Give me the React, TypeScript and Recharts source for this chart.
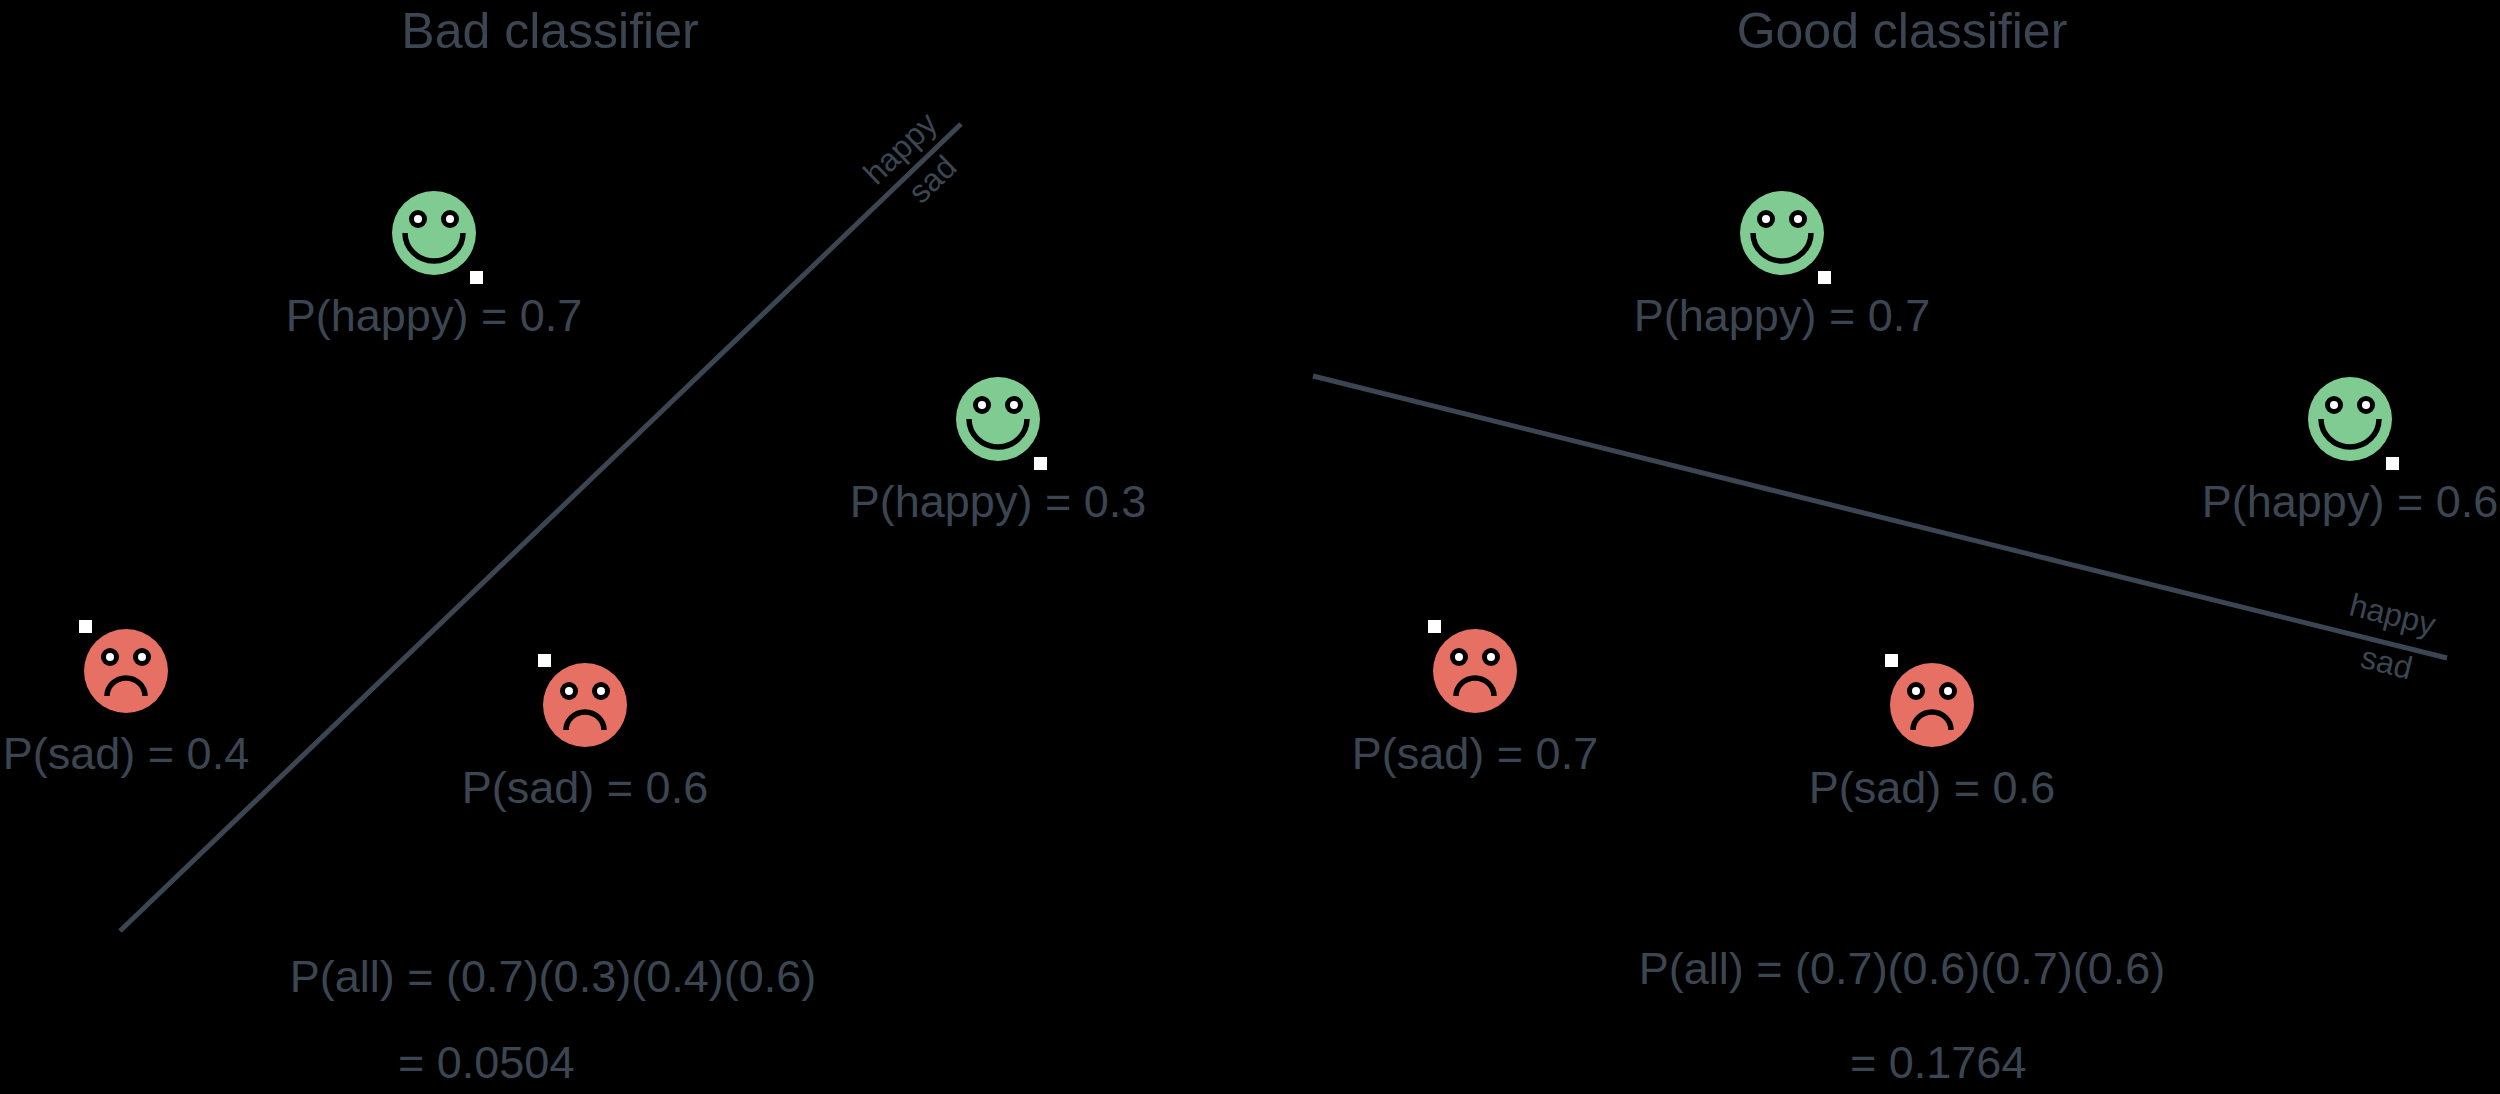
import React from "react";
import { ScatterChart, Scatter, XAxis, YAxis, ReferenceLine } from "recharts";

const W = 2500, H = 1094;
const FONT = "'Liberation Sans', Arial, sans-serif";
const INK = "#3b4652";

// faces: x, y, mood, label
const faces = [
  { x: 434, y: 233, mood: "happy", label: "P(happy) = 0.7" },
  { x: 998, y: 419, mood: "happy", label: "P(happy) = 0.3" },
  { x: 126, y: 671, mood: "sad", label: "P(sad) = 0.4" },
  { x: 585, y: 705, mood: "sad", label: "P(sad) = 0.6" },
  { x: 1782, y: 233, mood: "happy", label: "P(happy) = 0.7" },
  { x: 2350, y: 419, mood: "happy", label: "P(happy) = 0.6" },
  { x: 1475, y: 671, mood: "sad", label: "P(sad) = 0.7" },
  { x: 1932, y: 705, mood: "sad", label: "P(sad) = 0.6" },
];

const texts = [
  { x: 550, y: 35, text: "Bad classifier", size: 50, angle: 0, anchor: "middle" },
  { x: 1902, y: 35, text: "Good classifier", size: 50, angle: 0, anchor: "middle" },
  { x: 553, y: 980, text: "P(all) = (0.7)(0.3)(0.4)(0.6)", size: 45, angle: 0, anchor: "middle" },
  { x: 398, y: 1066, text: "= 0.0504", size: 45, angle: 0, anchor: "start" },
  { x: 1902, y: 972, text: "P(all) = (0.7)(0.6)(0.7)(0.6)", size: 45, angle: 0, anchor: "middle" },
  { x: 1850, y: 1066, text: "= 0.1764", size: 45, angle: 0, anchor: "start" },
  { x: 902, y: 150, text: "happy", size: 32, angle: -44, anchor: "middle" },
  { x: 934, y: 181, text: "sad", size: 32, angle: -44, anchor: "middle" },
  { x: 2392, y: 617, text: "happy", size: 32, angle: 14, anchor: "middle" },
  { x: 2386, y: 665, text: "sad", size: 32, angle: 14, anchor: "middle" },
];

const lines = [
  [{ x: 120, y: 931 }, { x: 961, y: 124 }],
  [{ x: 1313, y: 376 }, { x: 2447, y: 658 }],
];

const Face = (p: any) => {
  const { cx, cy, payload } = p;
  const happy = payload.mood === "happy";
  const r = 42;
  return (
    <g>
      <circle cx={cx} cy={cy} r={r} fill={happy ? "#7fcb91" : "#e57063"} />
      {[-16, 16].map((dx) => (
        <g key={dx}>
          <circle cx={cx + dx} cy={cy - 14} r={9} fill="#000" />
          <circle cx={cx + dx} cy={cy - 14} r={4} fill="#fff" />
        </g>
      ))}
      {happy ? (
        <path d={`M ${cx - 29} ${cy} A 29 28 0 0 0 ${cx + 29} ${cy}`} stroke="#000" strokeWidth={5.5} fill="none" />
      ) : (
        <path d={`M ${cx - 19} ${cy + 25} A 19 18 0 0 1 ${cx + 19} ${cy + 25}`} stroke="#000" strokeWidth={5.5} fill="none" />
      )}
      {happy ? (
        <rect x={cx + 36} y={cy + 38} width={13} height={13} fill="#fff" />
      ) : (
        <rect x={cx - 47} y={cy - 51} width={13} height={13} fill="#fff" />
      )}
      <text x={cx} y={cy + 86} textAnchor="middle" dominantBaseline="middle" fontSize={45} fontFamily={FONT} fill={INK}>
        {payload.label}
      </text>
    </g>
  );
};

const Txt = (p: any) => {
  const { cx, cy, payload } = p;
  return (
    <text x={cx} y={cy} textAnchor={payload.anchor} dominantBaseline="middle" fontSize={payload.size} fontFamily={FONT} fill={INK}
      transform={`rotate(${payload.angle} ${cx} ${cy})`}>
      {payload.text}
    </text>
  );
};

export default function App() {
  return (
    <div style={{ position: "absolute", left: 0, top: 0, width: W, height: H, background: "#000" }}>
      <ScatterChart width={W} height={H} margin={{ top: 0, right: 0, bottom: 0, left: 0 }}>
        <XAxis type="number" dataKey="x" domain={[0, W]} hide />
        <YAxis type="number" dataKey="y" domain={[0, H]} reversed hide />
        {lines.map((seg, i) => (
          <ReferenceLine key={i} segment={seg} stroke={INK} strokeWidth={5} ifOverflow="visible" />
        ))}
        <Scatter data={faces} shape={<Face />} isAnimationActive={false} />
        <Scatter data={texts} shape={<Txt />} isAnimationActive={false} />
      </ScatterChart>
    </div>
  );
}
